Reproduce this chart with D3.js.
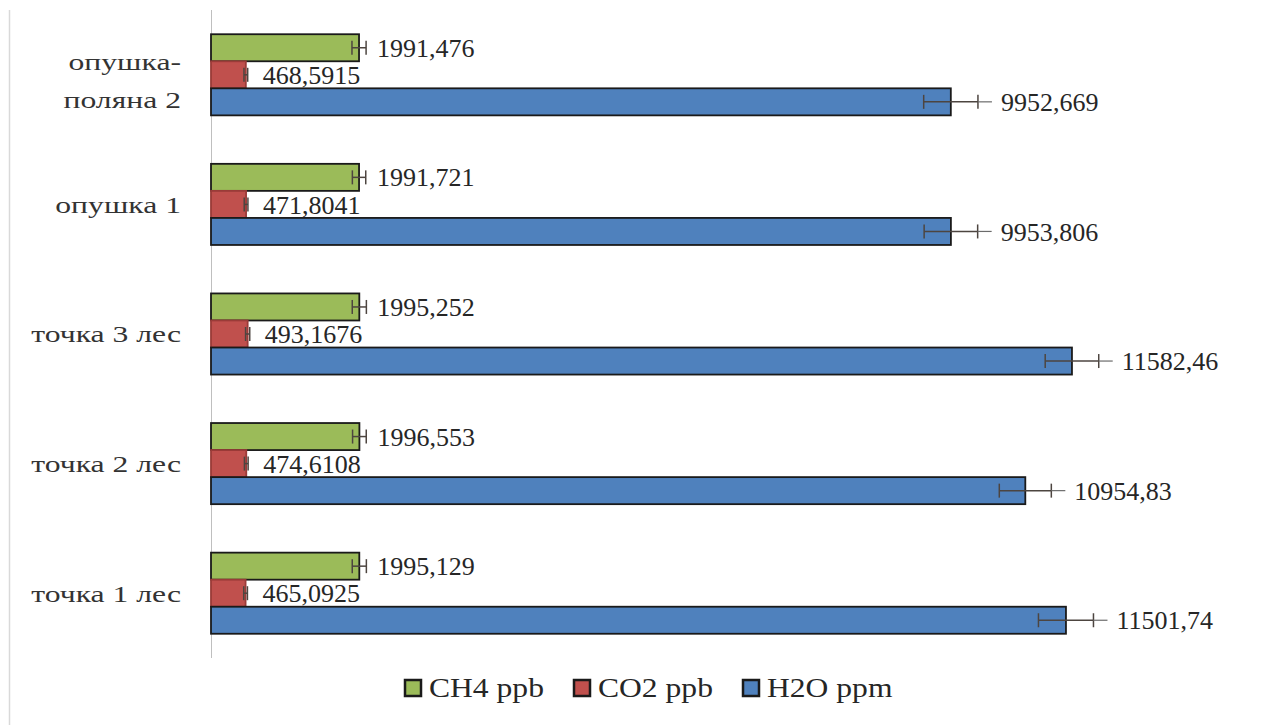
<!DOCTYPE html>
<html>
<head>
<meta charset="utf-8">
<script src="https://cdn.jsdelivr.net/npm/d3@7"></script>
<style>
  body { margin: 0; background: #fff; }
  text { font-family: "Liberation Serif", "Times New Roman", serif; fill: #262626; }
</style>
</head>
<body>
<svg id="chart"></svg>
<script>
const width = 1282;
const height = 725;
const margin = {left: 211, right: 60, top: 10, bottom: 68};

// data, top group first
const categories = ['опушка-поляна 2', 'опушка 1', 'точка 3 лес', 'точка 2 лес', 'точка 1 лес'];
const seriesNames = ['CH4 ppb', 'CO2 ppb', 'H2O ppm'];
const ch4 = [1991.476, 1991.721, 1995.252, 1996.553, 1995.129];
const co2 = [468.5915, 471.8041, 493.1676, 474.6108, 465.0925];
const h2o = [9952.669, 9953.806, 11582.46, 10954.83, 11501.74];
const ch4Err = [95, 90, 95, 92, 95];
const co2Err = [25, 25, 28, 25, 25];
const h2oErr = [365, 360, 360, 350, 370];

const colors = {'CH4 ppb': '#9bbb59', 'CO2 ppb': '#c0504d', 'H2O ppm': '#4f81bd'};
const strokes = {'CH4 ppb': '#1a1a1a', 'CO2 ppb': '#9a3b38', 'H2O ppm': '#1a1a1a'};

const svg = d3.select('#chart')
  .attr('width', width)
  .attr('height', height);

// build rows for the bars
const rows = [];
categories.forEach((cat, i) => {
  rows.push({cat: cat, series: 'CH4 ppb', value: ch4[i], err: ch4Err[i]});
  rows.push({cat: cat, series: 'CO2 ppb', value: co2[i], err: co2Err[i]});
  rows.push({cat: cat, series: 'H2O ppm', value: h2o[i], err: h2oErr[i]});
});

const plotBottom = height - margin.bottom + 1;

const xScale = d3.scaleLinear()
  .domain([0, 12000])
  .range([margin.left, margin.left + 892]);

const yScale = d3.scaleBand()
  .domain(categories)
  .range([margin.top, plotBottom])
  .paddingInner(0.374)
  .paddingOuter(0.187);

const ySub = d3.scaleBand()
  .domain(seriesNames)
  .range([0, yScale.bandwidth()]);

// frame edge on the left
svg.append('line')
  .attr('x1', 9.5).attr('x2', 9.5)
  .attr('y1', margin.top).attr('y2', height)
  .attr('stroke', '#d9d9d9')
  .attr('stroke-width', 1.5);

// y axis line
svg.append('line')
  .attr('x1', margin.left + 0.5).attr('x2', margin.left + 0.5)
  .attr('y1', margin.top).attr('y2', plotBottom)
  .attr('stroke', '#bfbfbf')
  .attr('stroke-width', 1);

// category labels (the source text is stretched wide)
const catLabels = svg.selectAll('.catLabel')
  .data(categories)
  .enter()
  .append('text')
  .attr('class', 'catLabel')
  .attr('text-anchor', 'end')
  .attr('font-size', 24)
  .style('fill', '#333')
  .attr('transform', d => `translate(181, ${yScale(d) + yScale.bandwidth() / 2}) scale(1.32, 1)`);

catLabels.each(function(d) {
  const cut = d.indexOf('-');
  const lines = cut > 0 ? [d.slice(0, cut + 1), d.slice(cut + 1)] : [d];
  const lineGap = 38;
  const shift = lines.length > 1 ? 6 : 0;
  lines.forEach((line, k) => {
    d3.select(this).append('tspan')
      .attr('x', 0)
      .attr('y', (k - (lines.length - 1) / 2) * lineGap + shift)
      .attr('dy', '0.35em')
      .text(line);
  });
});

const fmt = v => String(v).replace('.', ',');

// value labels (drawn under the bars, as in the original)
svg.selectAll('.valueLabel')
  .data(rows)
  .enter()
  .append('text')
  .attr('class', 'valueLabel')
  .attr('font-size', 26)
  .attr('x', d => {
    if (d.series == 'H2O ppm') return xScale(d.value + d.err) + 23;
    if (d.series == 'CO2 ppb') return xScale(d.value) + 17;
    return xScale(d.value) + 18;
  })
  .attr('y', d => yScale(d.cat) + ySub(d.series) + ySub.bandwidth() / 2)
  .attr('dy', '0.35em')
  .text(d => fmt(d.value));

// bars
svg.selectAll('.bar')
  .data(rows)
  .enter()
  .append('rect')
  .attr('class', 'bar')
  .attr('x', xScale(0))
  .attr('y', d => yScale(d.cat) + ySub(d.series))
  .attr('width', d => xScale(d.value) - xScale(0))
  .attr('height', ySub.bandwidth())
  .attr('fill', d => colors[d.series])
  .attr('stroke', d => strokes[d.series])
  .attr('stroke-width', 1.8);

// error bars
const errColor = '#4d4540';
const capHalf = 7;
const errs = svg.selectAll('.err')
  .data(rows)
  .enter()
  .append('g')
  .attr('class', 'err')
  .attr('transform', d => `translate(0, ${yScale(d.cat) + ySub(d.series) + ySub.bandwidth() / 2})`);

errs.append('line')
  .attr('x1', d => xScale(d.value - d.err))
  .attr('x2', d => xScale(d.value + d.err))
  .attr('stroke', errColor)
  .attr('stroke-width', 1.5);

errs.append('line')
  .attr('x1', d => xScale(d.value - d.err))
  .attr('x2', d => xScale(d.value - d.err))
  .attr('y1', -capHalf).attr('y2', capHalf)
  .attr('stroke', errColor)
  .attr('stroke-width', 1.5);

errs.append('line')
  .attr('x1', d => xScale(d.value + d.err))
  .attr('x2', d => xScale(d.value + d.err))
  .attr('y1', -capHalf).attr('y2', capHalf)
  .attr('stroke', errColor)
  .attr('stroke-width', 1.5);

// leader lines to the H2O labels
errs.filter(d => d.series == 'H2O ppm')
  .append('line')
  .attr('x1', d => xScale(d.value + d.err))
  .attr('x2', d => xScale(d.value + d.err) + 14)
  .attr('stroke', '#6b6b6b')
  .attr('stroke-width', 1.2);

// legend
const legendX = [405, 574, 743];
const legend = svg.selectAll('.legend')
  .data(seriesNames)
  .enter()
  .append('g')
  .attr('class', 'legend')
  .attr('transform', (d, i) => `translate(${legendX[i]}, 688)`);

legend.append('rect')
  .attr('x', 0).attr('y', -8)
  .attr('width', 16).attr('height', 16)
  .attr('fill', d => colors[d])
  .attr('stroke', '#1a1a1a')
  .attr('stroke-width', 2.5);

legend.append('text')
  .attr('transform', 'translate(24, 0) scale(1.17, 1)')
  .attr('dy', '0.35em')
  .attr('font-size', 27)
  .text(d => d);
</script>
</body>
</html>
